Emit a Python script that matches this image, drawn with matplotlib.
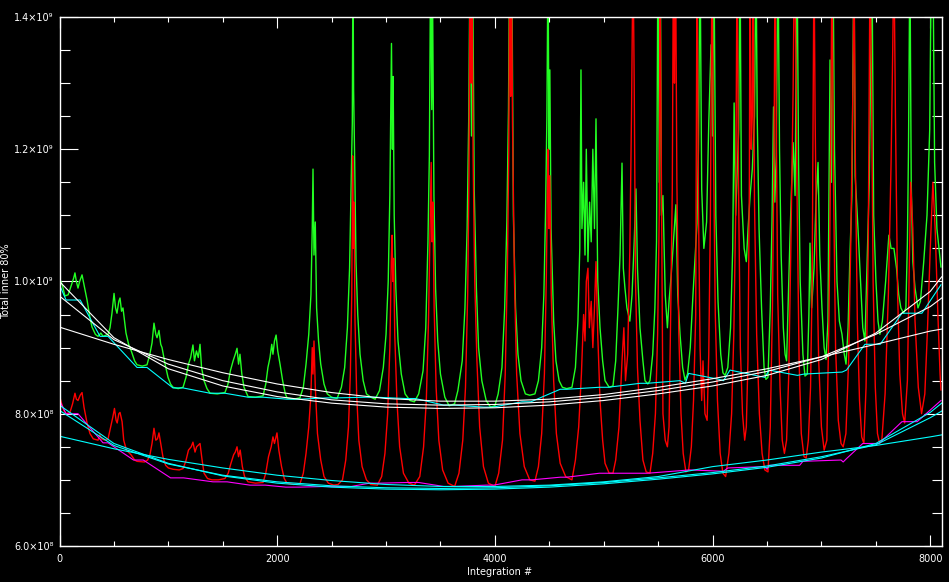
import numpy as np
import matplotlib
matplotlib.use('Agg')
import matplotlib.pyplot as plt
from matplotlib.ticker import MultipleLocator, FuncFormatter

# total counts, units of 1e8 (integration #, value)
green_pts = [
    (0, 10.05), (25, 9.95), (50, 9.78), (80, 9.8), (110, 9.95), (130, 10.05), (142, 10.13), (155, 10.0), (170, 9.9),
    (185, 10.0), (207, 10.1), (225, 9.95), (253, 9.72), (280, 9.45), (299, 9.31), (330, 9.2), (354, 9.17), (380, 9.22),
    (400, 9.17), (446, 9.2),
    (464, 9.3), (482, 9.52), (501, 9.82), (515, 9.6), (528, 9.52), (545, 9.7), (556, 9.75), (570, 9.55), (583, 9.6),
    (611, 9.22), (635, 9.05), (657, 8.96), (690, 8.8), (712, 8.74), (760, 8.72), (804, 8.74),
    (830, 8.9), (850, 9.07), (868, 9.37), (885, 9.2), (896, 9.15), (914, 9.26), (930, 9.05), (942, 9.0), (969, 8.76),
    (997, 8.55), (1020, 8.45), (1043, 8.4), (1090, 8.38), (1135, 8.4),
    (1162, 8.55), (1185, 8.75), (1205, 8.85), (1226, 9.04), (1240, 8.8), (1258, 8.95), (1275, 8.85), (1291, 9.05),
    (1305, 8.7), (1328, 8.5), (1355, 8.38), (1383, 8.31), (1450, 8.3), (1520, 8.32),
    (1548, 8.45), (1570, 8.65), (1595, 8.8), (1615, 8.9), (1631, 8.99), (1645, 8.75), (1658, 8.9), (1675, 8.6),
    (1695, 8.4), (1732, 8.26), (1800, 8.25), (1870, 8.27),
    (1895, 8.45), (1915, 8.7), (1934, 8.85), (1950, 9.05), (1961, 8.9), (1975, 9.1), (1990, 9.19), (2005, 8.95),
    (2026, 8.75), (2050, 8.5), (2075, 8.3), (2090, 8.24), (2150, 8.22), (2209, 8.24),
    (2240, 8.4), (2265, 8.75), (2290, 9.2), (2310, 9.8), (2322, 10.8), (2329, 11.7), (2338, 10.4), (2350, 10.9),
    (2362, 9.6), (2380, 9.1), (2400, 8.75), (2430, 8.45), (2460, 8.3), (2500, 8.25), (2550, 8.23),
    (2590, 8.4), (2620, 8.7), (2645, 9.3), (2665, 10.2), (2680, 11.5), (2690, 12.4), (2696, 15), (2702, 12.9),
    (2712, 11.8), (2724, 10.3), (2740, 9.5), (2761, 8.9), (2790, 8.5), (2820, 8.3), (2860, 8.25), (2900, 8.22),
    (2940, 8.35), (2975, 8.7), (3000, 9.2), (3020, 10.0), (3035, 11.3), (3045, 12.8), (3050, 13.6), (3058, 12.0),
    (3065, 13.1), (3075, 11.0), (3090, 9.9), (3110, 9.1), (3140, 8.6), (3175, 8.3), (3220, 8.2), (3260, 8.18),
    (3300, 8.3), (3340, 8.65), (3365, 9.3), (3385, 10.6), (3398, 11.9), (3410, 15), (3420, 12.6), (3428, 14.2),
    (3440, 11.3), (3455, 9.9), (3475, 9.1), (3500, 8.6), (3540, 8.25), (3580, 8.12), (3630, 8.15),
    (3660, 8.35), (3700, 8.8), (3725, 9.6), (3745, 10.8), (3760, 12.5), (3772, 15), (3785, 12.2), (3795, 15),
    (3810, 11.4), (3830, 9.9), (3850, 9.0), (3880, 8.5), (3920, 8.2), (3960, 8.1), (4000, 8.12),
    (4030, 8.3), (4065, 8.7), (4090, 9.6), (4110, 10.9), (4125, 12.6), (4135, 15), (4145, 13.0), (4155, 15),
    (4170, 11.0), (4190, 9.6), (4212, 8.9), (4240, 8.5), (4280, 8.3), (4320, 8.28), (4368, 8.3),
    (4400, 8.5), (4430, 9.0), (4450, 9.8), (4465, 11.0), (4478, 12.5), (4488, 15), (4497, 12.0), (4505, 13.2),
    (4516, 10.8), (4540, 9.4), (4561, 8.8), (4590, 8.5), (4620, 8.4), (4660, 8.38), (4708, 8.4),
    (4740, 8.7), (4763, 9.4), (4780, 10.5), (4791, 13.2), (4800, 10.8), (4815, 11.5), (4828, 10.4), (4840, 12.0),
    (4855, 10.3), (4870, 11.2), (4885, 10.6), (4900, 12.0), (4915, 10.8), (4929, 12.46), (4945, 10.0), (4966, 9.3),
    (4990, 8.8), (5012, 8.5), (5050, 8.4), (5085, 8.42),
    (5110, 8.8), (5131, 9.6), (5150, 10.4), (5160, 11.2), (5168, 11.79), (5180, 10.2), (5195, 9.9), (5213, 9.6),
    (5240, 9.4), (5260, 9.8), (5280, 10.6), (5296, 11.4), (5310, 10.2), (5333, 9.3), (5360, 8.8), (5379, 8.5),
    (5405, 8.45), (5425, 8.5),
    (5450, 8.9), (5470, 9.6), (5485, 10.6), (5498, 15), (5510, 11.5), (5520, 15), (5530, 11.0), (5544, 11.3),
    (5565, 9.8), (5585, 9.3), (5600, 9.7), (5620, 10.1), (5640, 10.6), (5663, 11.16), (5680, 9.8), (5701, 9.2),
    (5725, 8.7), (5747, 8.51), (5770, 8.6),
    (5795, 9.0), (5820, 9.8), (5840, 10.4), (5857, 10.88), (5870, 12.0), (5885, 15), (5900, 11.4), (5920, 10.5),
    (5945, 10.9), (5965, 12.4), (5986, 13.58), (6000, 12.2), (6012, 15), (6030, 11.0), (6050, 9.7), (6075, 8.9),
    (6095, 8.62), (6115, 8.58), (6140, 8.7),
    (6165, 9.3), (6185, 10.5), (6198, 12.7), (6212, 11.0), (6225, 11.6), (6240, 12.3), (6252, 15), (6265, 11.3),
    (6290, 10.5), (6310, 10.3), (6326, 10.8), (6345, 11.3), (6365, 11.7), (6385, 12.5), (6399, 15), (6410, 12.5),
    (6427, 10.8), (6450, 9.6), (6473, 8.7), (6490, 8.52), (6509, 8.55),
    (6530, 9.6), (6546, 10.9), (6560, 12.64), (6572, 11.2), (6585, 11.9), (6601, 15), (6615, 12.0), (6630, 10.4),
    (6650, 9.3), (6666, 8.9), (6680, 8.8), (6693, 9.6), (6710, 10.6), (6725, 11.4), (6740, 12.1), (6758, 11.3),
    (6776, 15), (6790, 11.8), (6805, 10.0), (6830, 8.9), (6849, 8.57), (6870, 8.6),
    (6885, 9.5), (6895, 10.58), (6910, 9.6), (6932, 10.2), (6950, 11.2), (6969, 11.8), (6985, 10.4), (7005, 9.6),
    (7025, 9.0), (7042, 8.82), (7060, 9.4), (7079, 13.35), (7092, 11.5), (7106, 15), (7120, 12.0), (7143, 10.0),
    (7165, 9.4), (7189, 9.2), (7210, 8.9), (7226, 8.75),
    (7245, 9.3), (7262, 10.4), (7280, 11.3), (7299, 15), (7310, 11.6), (7336, 10.8), (7360, 10.0), (7380, 9.3),
    (7400, 9.1), (7418, 10.2), (7440, 11.5), (7464, 15), (7480, 11.0), (7501, 10.0), (7520, 9.4), (7537, 9.2),
    (7560, 9.4),
    (7590, 10.0), (7620, 10.7), (7640, 10.5), (7666, 10.5), (7690, 10.2), (7710, 9.8), (7730, 9.6), (7755, 9.52),
    (7776, 9.6), (7790, 10.6), (7800, 12.0), (7813, 15), (7825, 11.5), (7840, 10.3), (7860, 9.9), (7887, 9.6),
    (7910, 9.7), (7940, 10.3), (7970, 11.0), (7995, 12.3), (8010, 15), (8024, 15), (8040, 11.8), (8061, 10.8),
    (8098, 10.22),
]

red_pts = [
    (0, 8.27), (20, 8.15), (40, 8.05), (60, 8.0), (96, 8.02), (120, 8.15), (142, 8.31), (155, 8.22), (170, 8.2),
    (190, 8.28), (207, 8.32), (225, 8.1), (253, 7.86), (280, 7.7), (310, 7.62), (354, 7.6), (370, 7.68), (385, 7.62),
    (420, 7.6), (446, 7.62),
    (470, 7.8), (490, 7.95), (505, 8.08), (520, 7.9), (530, 7.86), (545, 8.0), (556, 8.02), (575, 7.88), (590, 7.6),
    (615, 7.45), (657, 7.38), (690, 7.3), (712, 7.28), (780, 7.27), (810, 7.3),
    (831, 7.38), (850, 7.55), (868, 7.78), (885, 7.6), (900, 7.62), (914, 7.71), (935, 7.5), (950, 7.35), (975, 7.22),
    (1000, 7.18), (1043, 7.16), (1100, 7.15), (1135, 7.17),
    (1160, 7.28), (1185, 7.45), (1210, 7.5), (1226, 7.57), (1245, 7.42), (1260, 7.5), (1291, 7.55), (1310, 7.3),
    (1328, 7.1), (1360, 7.02), (1400, 7.0), (1460, 7.0), (1520, 7.02),
    (1550, 7.1), (1575, 7.25), (1600, 7.38), (1615, 7.42), (1631, 7.5), (1645, 7.35), (1660, 7.45), (1680, 7.2),
    (1700, 7.05), (1732, 6.97), (1800, 6.95), (1870, 6.96),
    (1895, 7.1), (1920, 7.35), (1945, 7.5), (1961, 7.65), (1975, 7.55), (1998, 7.71), (2015, 7.45), (2040, 7.2),
    (2065, 7.02), (2090, 6.95), (2150, 6.93), (2209, 6.94),
    (2240, 7.1), (2265, 7.4), (2290, 7.8), (2310, 8.3), (2322, 9.0), (2329, 8.6), (2338, 9.1), (2350, 8.4),
    (2370, 7.7), (2400, 7.3), (2430, 7.05), (2470, 6.95), (2520, 6.92), (2560, 6.93),
    (2600, 7.0), (2630, 7.3), (2655, 7.8), (2672, 8.6), (2685, 9.8), (2693, 11.9), (2700, 10.5), (2706, 11.2),
    (2715, 9.4), (2730, 8.3), (2750, 7.6), (2780, 7.2), (2820, 7.0), (2860, 6.93), (2920, 6.92),
    (2960, 7.05), (2990, 7.4), (3015, 8.0), (3035, 9.0), (3048, 10.3), (3055, 10.7), (3062, 10.0), (3070, 10.35),
    (3080, 9.2), (3100, 8.2), (3125, 7.5), (3160, 7.1), (3210, 6.95), (3260, 6.92),
    (3310, 7.05), (3345, 7.5), (3370, 8.2), (3390, 9.4), (3405, 10.8), (3415, 11.8), (3422, 10.6), (3430, 11.2),
    (3442, 9.6), (3460, 8.4), (3485, 7.6), (3520, 7.15), (3570, 6.95), (3630, 6.9),
    (3670, 7.1), (3705, 7.6), (3730, 8.4), (3750, 9.8), (3762, 11.6), (3772, 15), (3782, 13.0), (3790, 15),
    (3800, 11.9), (3815, 10.0), (3835, 8.8), (3860, 7.8), (3895, 7.2), (3940, 6.95), (4000, 6.9),
    (4035, 7.1), (4070, 7.6), (4095, 8.6), (4115, 10.2), (4128, 12.0), (4136, 15), (4145, 12.8), (4152, 15),
    (4162, 12.4), (4180, 10.0), (4200, 8.6), (4230, 7.7), (4270, 7.2), (4320, 7.0), (4368, 6.98),
    (4400, 7.2), (4430, 7.7), (4455, 8.6), (4472, 10.0), (4483, 11.4), (4490, 12.0), (4497, 10.8), (4505, 11.6),
    (4518, 9.8), (4540, 8.5), (4565, 7.7), (4600, 7.25), (4650, 7.05), (4708, 7.0),
    (4740, 7.3), (4770, 7.8), (4795, 8.6), (4815, 9.5), (4828, 9.1), (4840, 10.0), (4855, 10.2), (4868, 9.3),
    (4885, 9.7), (4900, 9.0), (4915, 9.6), (4929, 10.3), (4945, 9.2), (4966, 8.2), (4990, 7.6), (5012, 7.25),
    (5050, 7.1), (5085, 7.1),
    (5110, 7.3), (5140, 7.8), (5168, 8.8), (5185, 9.3), (5200, 8.5), (5220, 8.9), (5240, 10.5), (5255, 12.5),
    (5269, 15), (5280, 13.0), (5292, 10.0), (5310, 8.7), (5333, 7.9), (5360, 7.3), (5390, 7.12), (5425, 7.1),
    (5450, 7.4), (5475, 8.0), (5495, 9.2), (5510, 11.0), (5517, 15), (5528, 12.0), (5544, 8.0), (5565, 7.6),
    (5585, 7.5), (5600, 7.8), (5615, 9.5), (5630, 11.4), (5640, 15), (5650, 13.0), (5660, 15), (5672, 11.5),
    (5690, 9.2), (5710, 8.0), (5730, 7.4), (5755, 7.12), (5780, 7.15),
    (5805, 7.5), (5825, 8.2), (5845, 9.5), (5857, 15), (5870, 11.2), (5885, 9.0), (5900, 8.2), (5912, 8.8),
    (5930, 8.0), (5950, 7.9), (5965, 8.9), (5980, 11.0), (5995, 15), (6008, 12.0), (6025, 9.5), (6045, 8.2),
    (6070, 7.4), (6095, 7.1), (6120, 7.05),
    (6150, 7.4), (6175, 8.0), (6195, 9.2), (6212, 11.0), (6225, 15), (6238, 11.5), (6255, 9.0), (6275, 8.0),
    (6295, 7.6), (6310, 7.8), (6325, 8.8), (6338, 11.5), (6344, 15), (6355, 12.0), (6365, 12.5), (6372, 15),
    (6385, 11.2), (6405, 9.2), (6430, 8.0), (6455, 7.4), (6480, 7.15), (6509, 7.12),
    (6530, 7.8), (6550, 9.6), (6565, 12.0), (6574, 15), (6585, 12.5), (6598, 9.8), (6620, 8.4), (6640, 7.6),
    (6660, 7.4), (6680, 7.6), (6700, 8.6), (6720, 10.6), (6740, 12.9), (6752, 15), (6765, 13.5), (6778, 11.0),
    (6795, 8.8), (6815, 7.7), (6840, 7.35), (6860, 7.33),
    (6880, 7.6), (6900, 8.4), (6915, 10.0), (6925, 13.0), (6932, 15), (6942, 12.5), (6955, 10.5), (6975, 8.8),
    (7000, 7.8), (7025, 7.45), (7050, 7.6), (7070, 9.5), (7085, 12.0), (7097, 15), (7110, 11.6), (7130, 9.0),
    (7155, 7.9), (7180, 7.55), (7200, 7.5),
    (7225, 7.7), (7250, 8.8), (7270, 10.6), (7290, 13.0), (7299, 15), (7312, 11.8), (7330, 9.4), (7350, 8.2),
    (7370, 7.65), (7390, 7.55), (7410, 8.4), (7430, 10.5), (7447, 15), (7460, 13.0), (7475, 10.0), (7495, 8.4),
    (7515, 7.7), (7535, 7.55), (7555, 7.6),
    (7585, 8.3), (7615, 9.8), (7640, 11.8), (7655, 13.5), (7666, 15), (7680, 12.5), (7700, 9.8), (7720, 8.6),
    (7745, 8.0), (7765, 7.86), (7790, 8.5), (7805, 10.0), (7820, 11.5), (7840, 10.8), (7860, 9.4), (7890, 8.4),
    (7920, 8.0), (7950, 8.3), (7975, 9.3), (8000, 10.5), (8024, 11.5), (8045, 10.8), (8070, 9.5), (8090, 8.6),
    (8098, 8.36),
]

# running baselines under each series
green_base = [
    (0, 9.95), (60, 9.72), (190, 9.72), (372, 9.17), (446, 9.17), (712, 8.7), (804, 8.7), (1043, 8.39), (1135, 8.39),
    (1383, 8.31), (1520, 8.31), (1732, 8.25), (1870, 8.25), (2090, 8.22), (2209, 8.22), (2460, 8.24), (2560, 8.24),
    (2820, 8.25), (2900, 8.25), (3180, 8.23), (3270, 8.23), (3530, 8.13), (3630, 8.13), (3900, 8.1), (3980, 8.1),
    (4250, 8.18), (4330, 8.18), (4600, 8.37), (4660, 8.37), (4960, 8.4), (5040, 8.4), (5333, 8.46), (5400, 8.46),
    (5700, 8.5), (5750, 8.46), (5780, 8.61), (6060, 8.52), (6100, 8.5), (6160, 8.66), (6480, 8.55), (6520, 8.66),
    (6780, 8.58), (6840, 8.6), (7190, 8.63), (7230, 8.66), (7400, 9.05), (7540, 9.05), (7740, 9.52), (7923, 9.52),
    (8098, 9.95),
]

red_base = [
    (0, 8.2), (60, 8.0), (170, 8.0), (400, 7.56), (446, 7.56), (680, 7.3), (770, 7.3), (1020, 7.03), (1140, 7.03),
    (1410, 6.97), (1540, 6.97), (1750, 6.92), (1890, 6.92), (2080, 6.89), (2210, 6.89), (2450, 6.9), (2680, 6.9),
    (2850, 6.95), (2950, 6.95), (3190, 6.96), (3300, 6.96), (3530, 6.9), (3620, 6.9), (3920, 6.92), (3990, 6.92),
    (4250, 7.0), (4340, 7.0), (4600, 7.04), (4660, 7.04), (4960, 7.1), (5050, 7.1), (5330, 7.1), (5400, 7.1),
    (5790, 7.15), (6100, 7.13), (6140, 7.18), (6480, 7.2), (6500, 7.16), (6520, 7.22), (6800, 7.22), (6830, 7.28),
    (7180, 7.3), (7200, 7.27), (7230, 7.32), (7380, 7.55), (7530, 7.55), (7740, 7.88), (7880, 7.88), (8098, 8.2),
]

# three fits to each baseline
fit_x = [0, 500, 1000, 1500, 2000, 2500, 3000, 3500, 4000, 4500, 5000, 5500, 6000, 6500, 7000, 7500, 8000, 8105]
green_fit_a = [10.0, 9.15, 8.68, 8.42, 8.26, 8.16, 8.10, 8.08, 8.09, 8.13, 8.20, 8.30, 8.42, 8.58, 8.82, 9.22, 9.85, 10.07]
green_fit_b = [9.78, 9.12, 8.75, 8.50, 8.33, 8.21, 8.15, 8.13, 8.14, 8.18, 8.25, 8.35, 8.48, 8.64, 8.86, 9.2, 9.62, 9.75]
green_fit_c = [9.31, 9.05, 8.82, 8.62, 8.45, 8.32, 8.23, 8.19, 8.19, 8.22, 8.29, 8.40, 8.53, 8.68, 8.86, 9.05, 9.25, 9.28]
red_fit_a = [8.13, 7.55, 7.25, 7.06, 6.95, 6.89, 6.86, 6.85, 6.86, 6.89, 6.94, 7.01, 7.09, 7.19, 7.33, 7.55, 8.02, 8.16]
red_fit_b = [8.05, 7.52, 7.24, 7.07, 6.97, 6.91, 6.88, 6.87, 6.88, 6.91, 6.96, 7.03, 7.11, 7.21, 7.35, 7.53, 7.94, 8.04]
red_fit_c = [7.66, 7.47, 7.31, 7.18, 7.07, 6.99, 6.93, 6.90, 6.90, 6.92, 6.97, 7.05, 7.2, 7.3, 7.42, 7.52, 7.65, 7.68]

SCALE = 1e8


def xy(pts):
    a = np.array(pts, dtype=float)
    return a[:, 0], a[:, 1] * SCALE


def sci_fmt(v, pos):
    if v <= 0:
        return ''
    e = int(np.floor(np.log10(v) + 1e-9))
    m = v / 10 ** e
    sup = {8: '\u2078', 9: '\u2079'}[e]
    return f'{m:.1f}\u00d710{sup}'


fig = plt.figure(figsize=(9.49, 5.82), dpi=100, facecolor='black')
ax = fig.add_axes([0.0627, 0.0619, 0.9296, 0.9089])
ax.set_facecolor('black')

lw = 0.8
ax.plot(*xy(green_pts), color='#22ff22', lw=1.0)
ax.plot(*xy(red_pts), color='#ff0000', lw=1.0)
ax.plot(*xy(green_base), color='#00ffff', lw=lw)
fx = np.array(fit_x, dtype=float)
for f in (green_fit_a, green_fit_b, green_fit_c):
    ax.plot(fx, np.array(f) * SCALE, color='white', lw=lw)
ax.plot(*xy(red_base), color='#ff00ff', lw=lw)
for f in (red_fit_a, red_fit_b, red_fit_c):
    ax.plot(fx, np.array(f) * SCALE, color='#00ffff', lw=lw)

ax.set_xlim(0, 8105)
ax.set_ylim(6e8, 1.4e9)
ax.xaxis.set_major_locator(MultipleLocator(2000))
ax.xaxis.set_minor_locator(MultipleLocator(500))
ax.yaxis.set_major_locator(MultipleLocator(2e8))
ax.yaxis.set_minor_locator(MultipleLocator(5e7))
ax.yaxis.set_major_formatter(FuncFormatter(sci_fmt))

for s in ax.spines.values():
    s.set_color('white')
    s.set_linewidth(1.0)

ax.tick_params(which='both', direction='in', top=True, right=True, colors='white', width=0.8)
ax.tick_params(axis='x', which='major', length=8, pad=5.5, labelsize=7)
ax.tick_params(axis='x', which='minor', length=3.5)
ax.tick_params(axis='y', which='major', length=13, pad=4, labelsize=7)
ax.tick_params(axis='y', which='minor', length=7)

fig.text(500 / 949, 1 - 572 / 582, 'Integration #', color='white', fontsize=7, ha='center', va='center')
fig.text(6 / 949, 1 - 281 / 582, 'Total inner 80%', color='white', fontsize=7, ha='center', va='center',
         rotation=90)

fig.savefig('out.png', dpi=100, facecolor='black')
